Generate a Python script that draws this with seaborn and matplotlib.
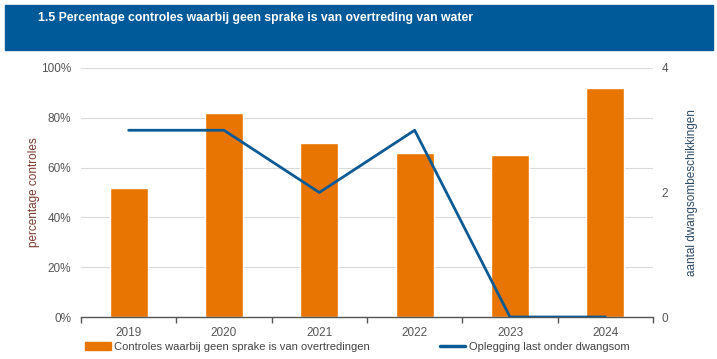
import pandas as pd
import seaborn as sns
import matplotlib.pyplot as plt
from matplotlib.patches import Rectangle
from matplotlib.lines import Line2D
from matplotlib.ticker import FixedLocator, PercentFormatter

# Data
years = ["2019", "2020", "2021", "2022", "2023", "2024"]
pct_no_violation = [52, 82, 70, 66, 65, 92]
dwangsom_count = [3, 3, 2, 3, 0, 0]

ORANGE = "#E87502"
BLUE = "#0B5A94"
HEADER = "#005A9A"

sns.set_theme(style="white")
plt.rcParams['font.family'] = ['Liberation Sans', 'DejaVu Sans']

df = pd.DataFrame({"year": years, "pct": pct_no_violation, "count": dwangsom_count})

fig = plt.figure(figsize=(7.17, 3.59), dpi=100)
ax = fig.add_axes([81 / 717, 1 - 317 / 359, 572 / 717, 249 / 359])

# Header band with title
fig.patches.append(Rectangle((5 / 717, 1 - 50 / 359), 708 / 717, 45 / 359,
                             transform=fig.transFigure, color=HEADER, zorder=0))
fig.text(38 / 717, 1 - 18 / 359, "1.5 Percentage controles waarbij geen sprake is van overtreding van water",
         color="white", fontsize=8.8, fontweight="bold", va="center", ha="left")

# Bars
sns.barplot(data=df, x="year", y="pct", color=ORANGE, width=0.4, saturation=1, ax=ax, zorder=2)
ax.set_ylim(0, 100)
ax.set_xlim(-0.5, 5.5)
ax.yaxis.set_major_locator(FixedLocator([0, 20, 40, 60, 80, 100]))
ax.yaxis.set_major_formatter(PercentFormatter(decimals=0))
ax.grid(axis="y", color="#d9d9d9", linewidth=0.8, zorder=0)
ax.set_axisbelow(True)
ax.set_xlabel("")
ax.set_ylabel("percentage controles", color="#7a3b2e", fontsize=8.5)
ax.yaxis.set_label_coords(-0.072, 0.5)
ax.tick_params(axis="y", length=0, labelsize=8.5, labelcolor="#555555", pad=7)
ax.tick_params(axis="x", length=0, labelsize=8.5, labelcolor="#555555", pad=7)
for s in ["top", "right", "left"]:
    ax.spines[s].set_visible(False)
ax.spines["bottom"].set_color("#555555")
ax.spines["bottom"].set_linewidth(1)
# small tick marks between categories
ax.set_xticks([i - 0.5 for i in range(7)], minor=True)
ax.tick_params(axis="x", which="minor", bottom=True, length=4, color="#555555", width=1, direction="out")

# Line on secondary axis
ax2 = ax.twinx()
sns.lineplot(x=list(range(len(years))), y=dwangsom_count, color=BLUE, linewidth=2, ax=ax2)
ax2.set_ylim(0, 4)
ax2.set_yticks([0, 2, 4])
ax2.set_ylabel("aantal dwangsombeschikkingen", color="#2d4a63", fontsize=8.5)
ax2.yaxis.set_label_coords(1.057, 0.5)
ax2.tick_params(axis="y", length=0, labelsize=8.5, labelcolor="#555555", pad=6)
for s in ["top", "right", "left", "bottom"]:
    ax2.spines[s].set_visible(False)

# Legend below
handles = [Rectangle((0, 0), 1, 1, color=ORANGE),
           Line2D([0], [0], color=BLUE, linewidth=2.5)]
labels = ["Controles waarbij geen sprake is van overtredingen", "Oplegging last onder dwangsom"]
fig.legend(handles, labels, loc="center left", bbox_to_anchor=(75 / 717, 1 - 347 / 359),
           ncol=2, frameon=False, fontsize=8, handlelength=2.3, handleheight=0.7,
           handletextpad=0.3, columnspacing=6.3, labelcolor="#444444")

fig.savefig("out.png", dpi=100)
